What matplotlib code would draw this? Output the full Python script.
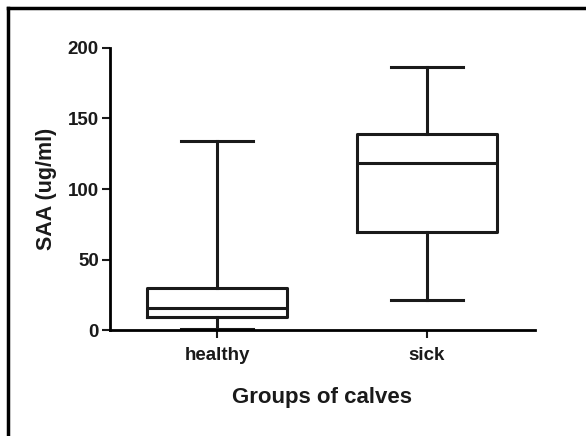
import matplotlib
matplotlib.use('Agg')
import matplotlib.pyplot as plt
from matplotlib.lines import Line2D

plt.rcParams['font.family'] = ['Liberation Sans', 'DejaVu Sans']

# box statistics
groups = ['healthy', 'sick']
whislo = [1, 21]
q1 = [9.5, 69.5]
med = [15.5, 118.5]
q3 = [30, 139]
whishi = [134, 186.5]

stats = []
for i, g in enumerate(groups):
	stats.append(dict(label=g, whislo=whislo[i], q1=q1[i], med=med[i], q3=q3[i], whishi=whishi[i], fliers=[]))

fig = plt.figure(figsize=(5.86, 4.36), dpi=100)
ax = fig.add_axes([110/586, 1-330/436, (535-110)/586, (330-48)/436])

lw = 2.2
col = '#1a1a1a'
ax.bxp(stats, positions=[1, 2], widths=0.67, showfliers=False,
	boxprops=dict(color=col, linewidth=lw),
	medianprops=dict(color=col, linewidth=lw),
	whiskerprops=dict(color=col, linewidth=lw),
	capprops=dict(color=col, linewidth=lw),
	capwidths=0.34)

ax.set_xlim(1-0.51, 2+0.515)
ax.set_ylim(0, 200)
ax.set_yticks([0, 50, 100, 150, 200])
ax.spines['top'].set_visible(False)
ax.spines['right'].set_visible(False)
ax.spines['left'].set_linewidth(2)
ax.spines['bottom'].set_linewidth(2)
ax.tick_params(width=1.5, length=6, labelsize=13.5, colors=col, pad=2)
ax.tick_params(axis='x', pad=6)
for lab in ax.get_xticklabels() + ax.get_yticklabels():
	lab.set_fontweight('bold')
ax.set_ylabel('SAA (ug/ml)', fontsize=15.5, fontweight='bold', color=col, labelpad=8)
ax.set_xlabel('Groups of calves', fontsize=16, fontweight='bold', color=col, labelpad=17)

# outer frame (top and left edges only visible)
fig.add_artist(Line2D([8/586, 1], [1-8/436, 1-8/436], transform=fig.transFigure, color='black', linewidth=2.5))
fig.add_artist(Line2D([8/586, 8/586], [0, 1-8/436], transform=fig.transFigure, color='black', linewidth=2.5))

fig.savefig('out.png', dpi=100)
